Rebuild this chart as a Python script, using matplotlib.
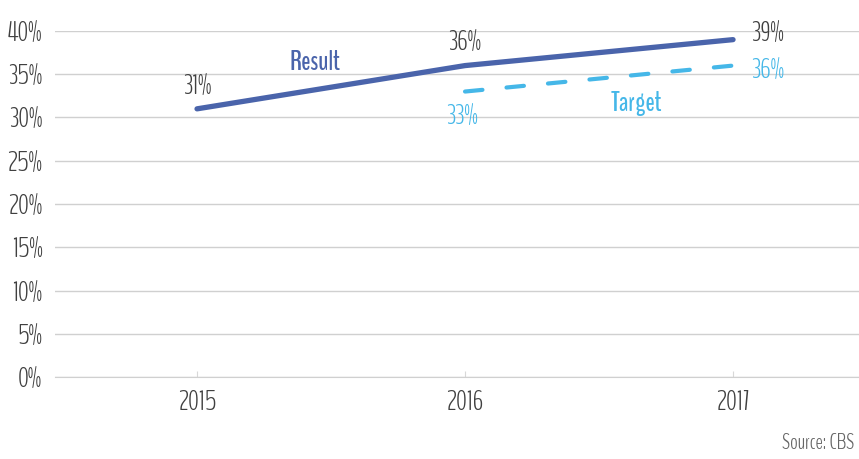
import matplotlib
matplotlib.use("Agg")
import matplotlib.pyplot as plt

plt.rcParams['font.family'] = ["BenchNine", "Oswald", "DejaVu Sans"]

years = ["2015", "2016", "2017"]
result = [31, 36, 39]
target_years = ["2016", "2017"]
target = [33, 36]
yticks = [0, 5, 10, 15, 20, 25, 30, 35, 40]
ytick_labels = [f"{v}%" for v in yticks]

c_res = "#4a64ab"
c_tar = "#45b7e8"
c_txt = "#404040"
fw = 300
fs = 19.5
lfs = 19.5

fig = plt.figure(figsize=(8.59, 4.59), dpi=100)
ax = fig.add_axes([0.064, 0.1786, 0.936, 0.7539])

xr = list(range(len(years)))
xt = [years.index(y) for y in target_years]

ax.plot(xr, result, color=c_res, lw=3.8, solid_capstyle='round', zorder=3)
ax.plot(xt, target, color=c_tar, lw=3.0, dashes=(4.2, 5.8), dash_capstyle='round', zorder=3)

ax.set_ylim(0, 40)
ax.set_xlim(-0.53, 2.47)
ax.set_yticks(yticks)
ax.set_yticklabels(ytick_labels, fontweight=fw)
ax.set_xticks(xr)
ax.set_xticklabels(years, fontweight=fw)
ax.grid(axis='y', color='#d0d0d0', lw=1.0)
ax.set_axisbelow(True)
for s in ['top', 'right', 'left']:
    ax.spines[s].set_visible(False)
ax.spines['bottom'].set_color('#d0d0d0')
ax.tick_params(axis='y', length=0, labelsize=fs, labelcolor=c_txt, pad=9)
ax.tick_params(axis='x', direction='in', length=4, color='#d8d8d8', labelsize=fs,
               labelcolor=c_txt, pad=9)

# result labels
ax.annotate(f"{result[0]}%", (xr[0], result[0]), xytext=(0, 7), textcoords='offset points',
            ha='center', va='bottom', fontsize=fs, color=c_txt, fontweight=fw)
ax.annotate(f"{result[1]}%", (xr[1], result[1]), xytext=(0, 7), textcoords='offset points',
            ha='center', va='bottom', fontsize=fs, color=c_txt, fontweight=fw)
ax.annotate(f"{result[2]}%", (xr[2], result[2]), xytext=(13, 4.5), textcoords='offset points',
            ha='left', va='center', fontsize=fs, color=c_txt, fontweight=fw)
# target labels
ax.annotate(f"{target[0]}%", (xt[0], target[0]), xytext=(-2, -9), textcoords='offset points',
            ha='center', va='top', fontsize=fs, color=c_tar, fontweight=fw)
ax.annotate(f"{target[1]}%", (xt[1], target[1]), xytext=(13, -3.5), textcoords='offset points',
            ha='left', va='center', fontsize=fs, color=c_tar, fontweight=fw)

ax.text(0.44, 36.4, "Result", color=c_res, fontsize=lfs, fontweight='bold', ha='center', va='center')
ax.text(1.64, 31.6, "Target", color=c_tar, fontsize=lfs, fontweight='bold', ha='center', va='center')

fig.text(0.995, 0.012, "Source: CBS", ha='right', va='bottom', fontsize=16, color='#666666', fontweight=fw)

fig.savefig("out.png", dpi=100)
